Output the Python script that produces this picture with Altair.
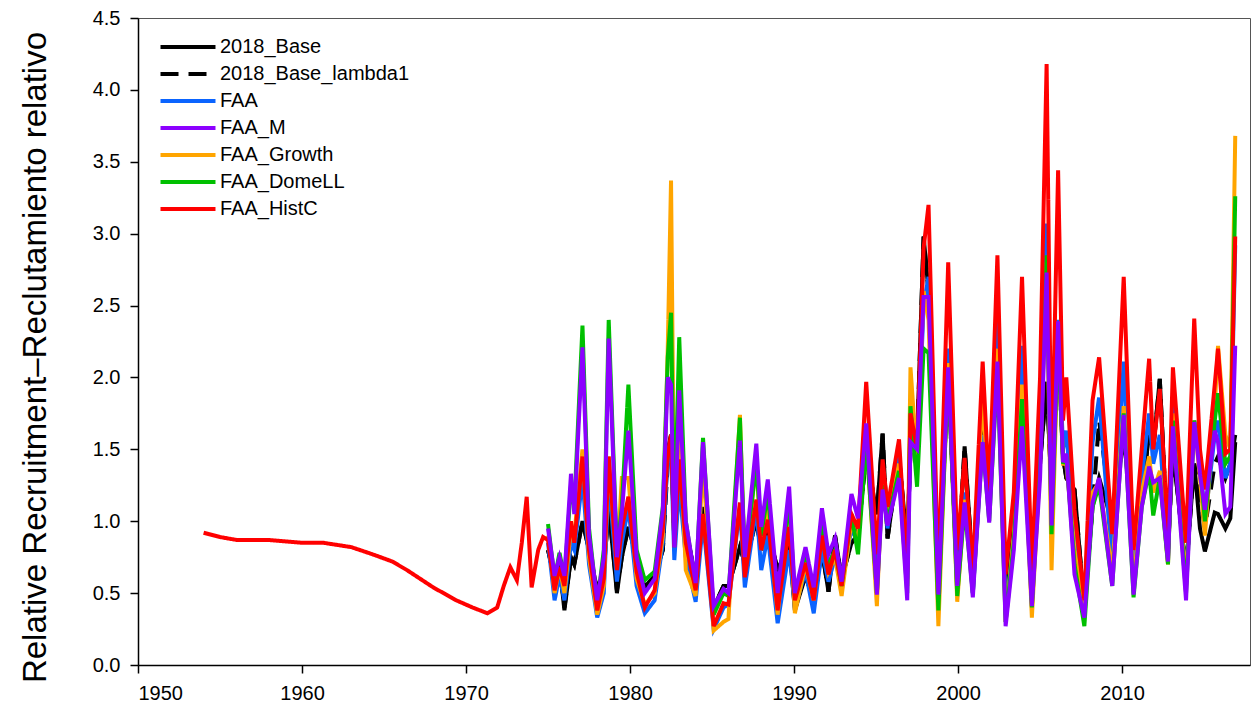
import altair as alt
import pandas as pd

# ---- data ----
series_names = ["2018_Base", "2018_Base_lambda1", "FAA", "FAA_M", "FAA_Growth", "FAA_DomeLL", "FAA_HistC"]

years = [1975.0, 1975.4, 1975.7, 1976.0, 1976.4, 1976.6, 1977.1, 1977.5, 1978.0, 1978.4,
         1978.7, 1979.2, 1979.5, 1979.9, 1980.4, 1980.9, 1981.5, 1982.0, 1982.3, 1982.5,
         1982.7, 1983.0, 1983.4, 1984.0, 1984.45, 1985.1, 1985.7, 1986.0, 1986.7, 1987.0,
         1987.7, 1988.0, 1988.4, 1989.0, 1989.7, 1990.05, 1990.7, 1991.2, 1991.7, 1992.1,
         1992.5, 1992.9, 1993.5, 1993.9, 1994.4, 1995.05, 1995.4, 1995.7, 1996.4, 1996.9,
         1997.1, 1997.5, 1997.9, 1998.2, 1998.8, 1999.4, 1999.95, 2000.4, 2000.9, 2001.5,
         2001.9, 2002.4, 2002.9, 2003.4, 2003.9, 2004.5, 2005.0, 2005.4, 2005.7, 2006.1,
         2006.4, 2006.6, 2007.1, 2007.7, 2008.2, 2008.6, 2009.4, 2010.1, 2010.7, 2011.2,
         2011.65, 2011.9, 2012.3, 2012.8, 2013.1, 2013.9, 2014.4, 2014.75, 2015.05, 2015.65,
         2015.85, 2016.3, 2016.6, 2016.9]

base_2018 = [0.80, 0.60, 0.70, 0.38, 0.75, 0.70, 1.00, 0.80, 0.52, 0.65,
             1.10, 0.50, 0.75, 0.96, 0.75, 0.54, 0.62, 0.80, 1.50, 1.60,
             0.85, 1.40, 0.95, 0.60, 1.10, 0.40, 0.55, 0.55, 0.82, 0.71,
             1.00, 0.80, 0.95, 0.66, 0.85, 0.38, 0.62, 0.45, 0.80, 0.51,
             0.90, 0.60, 0.85, 0.90, 1.47, 1.05, 1.61, 0.88, 1.45, 0.83,
             1.50, 1.55, 2.98, 2.60, 0.60, 2.00, 0.60, 1.52, 0.65, 1.70,
             1.19, 2.30, 0.55, 1.00, 2.00, 0.50, 1.40, 1.97, 1.20, 2.20,
             1.45, 1.30, 1.22, 0.40, 1.10, 1.30, 0.99, 1.60, 0.88, 1.20,
             1.60, 1.50, 1.99, 0.80, 1.50, 0.65, 1.40, 0.95, 0.79, 1.06,
             1.05, 0.95, 1.02, 1.55]

base_lambda1 = [0.80, 0.60, 0.70, 0.40, 0.75, 0.70, 1.00, 0.80, 0.52, 0.65,
                1.10, 0.52, 0.75, 0.96, 0.75, 0.54, 0.62, 0.80, 1.40, 1.60,
                0.85, 1.40, 0.95, 0.60, 1.10, 0.40, 0.55, 0.55, 0.82, 0.71,
                1.00, 0.80, 0.95, 0.66, 0.85, 0.42, 0.62, 0.45, 0.80, 0.51,
                0.90, 0.60, 0.85, 0.90, 1.47, 1.05, 1.61, 0.88, 1.45, 0.83,
                1.50, 1.55, 2.98, 2.60, 0.60, 2.00, 0.60, 1.52, 0.65, 1.70,
                1.19, 2.30, 0.55, 1.00, 2.00, 0.50, 1.40, 1.97, 1.20, 2.20,
                1.45, 1.30, 1.22, 0.40, 1.10, 1.70, 0.99, 1.60, 0.88, 1.20,
                1.60, 1.50, 1.99, 0.80, 1.50, 0.65, 1.40, 1.20, 0.95, 1.40,
                1.45, 1.30, 1.40, 1.60]

faa = [0.85, 0.45, 0.62, 0.45, 0.85, 0.80, 1.30, 0.70, 0.33, 0.50,
       1.30, 0.58, 0.85, 1.10, 0.55, 0.36, 0.45, 0.85, 1.45, 1.50,
       0.73, 1.25, 0.75, 0.44, 1.00, 0.25, 0.40, 0.42, 1.10, 0.54,
       1.10, 0.66, 0.90, 0.29, 0.80, 0.40, 0.65, 0.36, 0.80, 0.58,
       0.75, 0.55, 0.95, 0.85, 1.60, 0.55, 1.30, 0.95, 1.50, 0.60,
       1.70, 1.40, 2.50, 2.70, 0.40, 2.20, 0.50, 1.20, 0.50, 1.60,
       1.05, 2.40, 0.35, 0.90, 2.22, 0.45, 1.50, 3.07, 1.00, 2.40,
       1.50, 1.63, 0.90, 0.40, 1.55, 1.86, 0.70, 2.11, 0.60, 1.30,
       1.75, 1.40, 1.60, 0.75, 1.80, 0.55, 1.70, 1.40, 1.00, 1.60,
       1.70, 1.30, 1.40, 2.92]

faa_m = [0.95, 0.62, 0.75, 0.62, 1.33, 1.05, 2.21, 0.90, 0.45, 0.75,
         2.27, 0.75, 1.06, 1.63, 0.75, 0.50, 0.60, 1.08, 2.00, 1.95,
         0.82, 1.91, 1.00, 0.57, 1.55, 0.41, 0.53, 0.50, 1.56, 0.75,
         1.54, 0.96, 1.29, 0.50, 1.24, 0.50, 0.82, 0.54, 1.09, 0.77,
         0.88, 0.58, 1.19, 1.02, 1.68, 0.49, 1.22, 0.97, 1.30, 0.45,
         1.55, 1.50, 2.56, 2.56, 0.49, 2.07, 0.55, 1.13, 0.47, 1.55,
         0.99, 2.11, 0.27, 0.80, 1.66, 0.41, 1.30, 2.73, 0.97, 2.39,
         1.41, 1.47, 0.63, 0.33, 1.13, 1.30, 0.55, 1.74, 0.49, 1.10,
         1.38, 1.27, 1.30, 0.72, 1.66, 0.45, 1.69, 1.33, 1.08, 1.63,
         1.55, 1.05, 1.10, 2.22]

faa_growth = [0.90, 0.50, 0.68, 0.50, 0.95, 0.90, 1.50, 0.75, 0.35, 0.55,
              1.45, 0.70, 1.30, 1.30, 0.60, 0.42, 0.50, 0.90, 2.20, 3.37,
              0.90, 1.70, 0.66, 0.48, 1.40, 0.24, 0.30, 0.32, 1.74, 0.65,
              1.43, 0.80, 1.10, 0.35, 1.13, 0.36, 0.70, 0.45, 0.95, 0.65,
              0.75, 0.48, 1.00, 0.85, 1.60, 0.41, 1.35, 1.00, 1.40, 0.55,
              2.07, 1.40, 2.60, 2.40, 0.27, 2.10, 0.44, 1.15, 0.55, 1.89,
              1.10, 2.20, 0.30, 0.90, 1.95, 0.33, 1.40, 2.80, 0.66, 2.30,
              1.40, 1.40, 0.80, 0.35, 1.20, 1.27, 0.65, 1.80, 0.55, 1.20,
              1.45, 1.20, 1.35, 0.70, 1.75, 0.55, 1.70, 1.30, 0.90, 1.80,
              2.22, 1.60, 1.50, 3.68]

faa_domell = [0.98, 0.60, 0.78, 0.60, 1.25, 1.10, 2.36, 0.95, 0.42, 0.80,
              2.40, 0.78, 1.10, 1.95, 0.80, 0.59, 0.65, 1.10, 2.14, 2.45,
              0.95, 2.28, 1.00, 0.55, 1.58, 0.35, 0.50, 0.48, 1.72, 0.72,
              1.40, 0.90, 1.20, 0.45, 1.15, 0.48, 0.78, 0.50, 1.00, 0.70,
              0.80, 0.55, 1.05, 0.77, 1.55, 0.50, 1.25, 1.00, 1.35, 0.50,
              1.80, 1.24, 2.20, 2.17, 0.38, 2.05, 0.48, 1.10, 0.50, 1.55,
              1.00, 2.05, 0.30, 0.85, 1.85, 0.40, 1.40, 2.85, 0.91, 2.30,
              1.40, 1.45, 0.70, 0.27, 1.10, 1.25, 0.55, 1.75, 0.47, 1.10,
              1.35, 1.04, 1.30, 0.70, 1.70, 0.50, 1.70, 1.40, 1.00, 1.70,
              1.89, 1.40, 1.45, 3.26]

faa_histc = [0.87, 0.52, 0.68, 0.55, 1.00, 0.85, 1.45, 0.80, 0.38, 0.60,
             1.45, 0.66, 0.95, 1.17, 0.65, 0.40, 0.52, 0.95, 1.47, 1.60,
             0.82, 1.43, 0.85, 0.52, 1.05, 0.27, 0.43, 0.42, 1.13, 0.61,
             1.15, 0.80, 1.01, 0.38, 0.96, 0.45, 0.71, 0.45, 0.90, 0.63,
             0.80, 0.55, 1.05, 0.95, 1.97, 0.77, 1.43, 1.10, 1.57, 0.65,
             1.75, 1.50, 2.90, 3.20, 0.60, 2.80, 0.80, 1.44, 0.66, 2.11,
             1.20, 2.85, 0.63, 1.20, 2.70, 0.66, 2.00, 4.18, 1.30, 3.44,
             1.70, 2.00, 1.08, 0.45, 1.84, 2.14, 0.91, 2.70, 0.80, 1.50,
             2.13, 1.50, 1.92, 0.90, 2.07, 0.85, 2.41, 1.50, 1.22, 1.95,
             2.20, 1.47, 1.50, 2.98]

# early part of FAA_HistC (only this run goes back to 1954)
early_years = [1954.0, 1955.0, 1956.0, 1957.9, 1960.0, 1961.3, 1963.0, 1964.3, 1965.5,
               1966.4, 1967.2, 1968.0, 1969.4, 1970.4, 1971.3, 1971.9, 1972.3, 1972.7,
               1973.1, 1973.4, 1973.7, 1974.0, 1974.4, 1974.7]
early_histc = [0.92, 0.89, 0.87, 0.87, 0.85, 0.85, 0.82, 0.77, 0.72,
               0.66, 0.60, 0.54, 0.45, 0.40, 0.36, 0.40, 0.55, 0.68,
               0.59, 0.85, 1.17, 0.54, 0.80, 0.89]

series_values = [base_2018, base_lambda1, faa, faa_m, faa_growth, faa_domell, faa_histc]
series_colors = ["#000000", "#000000", "#0a64ff", "#8c00ff", "#ffa500", "#00c000", "#ff0000"]
series_dashes = [[1, 0], [18, 10], [1, 0], [1, 0], [1, 0], [1, 0], [1, 0]]
draw_order = ["2018_Base", "2018_Base_lambda1", "FAA", "FAA_Growth", "FAA_DomeLL", "FAA_HistC", "FAA_M"]

rows = []
for name, vals in zip(series_names, series_values):
    xs = list(years)
    vs = list(vals)
    if name == "FAA_HistC":
        xs = early_years + xs
        vs = early_histc + vs
    for x, v in zip(xs, vs):
        rows.append({"series": name, "year": x, "value": v})
df = pd.DataFrame(rows)

FONT = "Liberation Sans"

# a long horizontal stroke drawn with a small nominal symbol size,
# so that legend rows can sit close together
legend_def = dict(
    title=None, orient="none", legendX=34, legendY=13,
    symbolType="M-2,0H2", symbolSize=756, symbolStrokeWidth=4, symbolFillColor="transparent",
    labelFontSize=20, labelFont=FONT, labelColor="#000000", labelLimit=400,
    labelOffset=16, rowPadding=1, padding=0,
)

color_scale = alt.Scale(domain=series_names, range=series_colors)
dash_scale = alt.Scale(domain=series_names, range=series_dashes)

x_enc = alt.X(
    "year:Q",
    scale=alt.Scale(domain=[1950, 2017.8], nice=False, zero=False),
    axis=alt.Axis(values=[1950, 1960, 1970, 1980, 1990, 2000, 2010], format="d",
                  title=None, labelPadding=10, grid=False, tickSize=8,
                  labelFontSize=20, labelFont=FONT, labelColor="#000000",
                  domainColor="#000000", domainWidth=1.5, tickColor="#000000", tickWidth=1.5),
)
y_enc = alt.Y(
    "value:Q",
    scale=alt.Scale(domain=[0, 4.5], nice=False),
    axis=alt.Axis(values=[0, 0.5, 1, 1.5, 2, 2.5, 3, 3.5, 4, 4.5], format=".1f",
                  title="Relative Recruitment\u2013Reclutamiento relativo",
                  titleFontSize=33, titleFont=FONT, titleFontWeight="normal",
                  titleColor="#000000", titlePadding=40, titleY=339, labelPadding=10,
                  grid=False, tickSize=8,
                  labelFontSize=20, labelFont=FONT, labelColor="#000000",
                  domainColor="#000000", domainWidth=1.5, tickColor="#000000", tickWidth=1.5),
)

layers = []
for name in draw_order:
    layers.append(
        alt.Chart(df)
        .transform_filter(alt.datum.series == name)
        .mark_line(strokeWidth=4, clip=True)
        .encode(
            x=x_enc,
            y=y_enc,
            color=alt.Color("series:N", scale=color_scale, legend=alt.Legend(**legend_def)),
            strokeDash=alt.StrokeDash("series:N", scale=dash_scale, legend=alt.Legend(**legend_def)),
            order="year:Q",
        )
    )

chart = (
    alt.layer(*layers)
    .properties(
        width=1112, height=647,
        padding={"left": 138, "top": 18, "right": 3, "bottom": 48},
        autosize=alt.AutoSizeParams(type="none"),
        background="#ffffff",
    )
    .configure_view(stroke="#555555", strokeWidth=1)
)

chart.save("out.html", embed_options={"renderer": "svg", "actions": False})
